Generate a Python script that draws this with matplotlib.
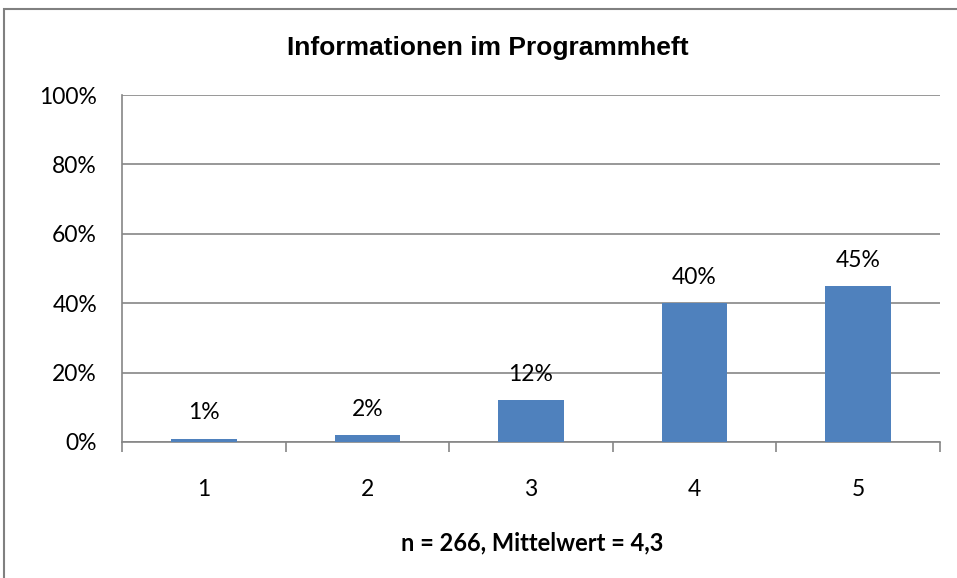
import matplotlib
matplotlib.use("Agg")
import matplotlib.pyplot as plt
from matplotlib.patches import Rectangle
from matplotlib.ticker import FuncFormatter, MultipleLocator

# data
categories = ["1", "2", "3", "4", "5"]
shares = [1, 2, 12, 40, 45]
bar_labels = ["1%", "2%", "12%", "40%", "45%"]

title = "Informationen im Programmheft"
xlabel = "n = 266, Mittelwert = 4,3"

BAR_COLOR = "#4F81BD"
GRID_COLOR = "#868686"
LABEL_FONT = ["Lato", "DejaVu Sans"]
FS = 16.5

fig = plt.figure(figsize=(9.57, 5.78), dpi=100)
ax = fig.add_axes([122 / 957, 1 - 442 / 578, (940 - 122) / 957, (442 - 95) / 578])

x = list(range(len(categories)))
ax.bar(x, shares, width=0.4, color=BAR_COLOR, zorder=3)

for xi, v, lab in zip(x, shares, bar_labels):
    ax.annotate(lab, (xi, v), xytext=(0, 11), textcoords="offset points",
                ha="center", va="bottom", fontsize=FS, family=LABEL_FONT)

ax.set_xlim(-0.5, len(categories) - 0.5)
ax.set_ylim(0, 100)
ax.yaxis.set_major_locator(MultipleLocator(20))
ax.yaxis.set_major_formatter(FuncFormatter(lambda v, _: f"{v:.0f}%"))
ax.grid(axis="y", color=GRID_COLOR, linewidth=1.2, zorder=0)

# category ticks sit on the boundaries between groups
ax.set_xticks([i - 0.5 for i in range(len(categories) + 1)], minor=False)
ax.set_xticklabels([])
ax.set_xticks(x, minor=True)
ax.set_xticklabels(categories, minor=True, fontsize=FS, family=LABEL_FONT)
ax.tick_params(axis="x", which="major", length=7, color=GRID_COLOR, width=1.2)
ax.tick_params(axis="x", which="minor", length=0, pad=27)
ax.tick_params(axis="y", length=0, pad=18, labelsize=FS)
for t in ax.get_yticklabels():
    t.set_family(LABEL_FONT)

for side in ["top", "right"]:
    ax.spines[side].set_visible(False)
ax.spines["left"].set_color(GRID_COLOR)
ax.spines["bottom"].set_color(GRID_COLOR)
ax.spines["left"].set_linewidth(1.2)
ax.spines["bottom"].set_linewidth(1.2)
ax.spines["left"].set_zorder(4)

fig.text(488 / 957, 1 - 48 / 578, title, ha="center", va="center",
         fontsize=19, fontweight="bold", family="Liberation Sans")
fig.text(532 / 957, 1 - 543 / 578, xlabel, ha="center", va="center",
         fontsize=17, fontweight="bold", family=LABEL_FONT)

# outer chart frame, partly cut off at the right and bottom
fig.patches.append(Rectangle((4 / 957, -0.1), 1.1, 1 - 9 / 578 + 0.1,
                             transform=fig.transFigure, fill=False,
                             edgecolor="#808080", linewidth=1.5))

fig.savefig("out.png", dpi=100)
